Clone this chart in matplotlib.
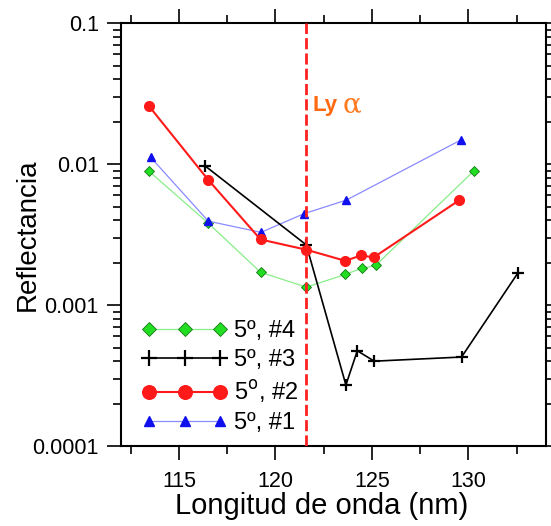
import matplotlib
matplotlib.use("Agg")
import matplotlib.pyplot as plt
from matplotlib.ticker import FixedLocator, NullFormatter, LogLocator

plt.rcParams['font.family'] = ['Liberation Sans', 'DejaVu Sans']

# Reflectance measurements at 5 degrees for four samples
wl_4 = [113.45, 116.53, 119.23, 121.6, 123.62, 124.46, 125.19, 130.26]
refl_4 = [0.0089, 0.0038, 0.00171, 0.00134, 0.00165, 0.00182, 0.00191, 0.0089]

wl_3 = [116.36, 121.6, 123.65, 124.24, 125.12, 129.64, 132.56]
refl_3 = [0.0097, 0.00267, 0.000271, 0.000474, 0.00040, 0.000428, 0.00169]

wl_2 = [113.45, 116.53, 119.23, 121.6, 123.62, 124.43, 125.09, 129.5]
refl_2 = [0.0258, 0.0077, 0.00292, 0.00247, 0.00206, 0.00225, 0.00218, 0.00552]

wl_1 = [113.53, 116.52, 119.25, 121.48, 123.68, 129.59]
refl_1 = [0.0112, 0.00394, 0.00328, 0.00445, 0.00556, 0.0148]

labels = ["5º, #4", "5º, #3", "5$^{\\mathrm{o}}$, #2", "5º, #1"]
x_ticks = [115, 120, 125, 130]
y_ticks = [0.0001, 0.001, 0.01, 0.1]
y_ticklabels = ["0.0001", "0.001", "0.01", "0.1"]
lyman_alpha = 121.6

fig = plt.figure(figsize=(5.51, 5.26), dpi=100)
ax = fig.add_axes([0.2196, 0.152, 0.7708, 0.804])

ax.plot(wl_4, refl_4, color='#88ee88', lw=0.9, marker='D', ms=5,
        mfc='#22dd22', mec='#117711', mew=0.6, label=labels[0], zorder=3)
ax.plot(wl_3, refl_3, color='black', lw=1.2, marker='+', ms=8,
        mew=1.6, label=labels[1], zorder=4)
ax.plot(wl_2, refl_2, color='#ff1a1a', lw=1.5, marker='o', ms=7,
        mfc='#ff1a1a', mec='#ff1a1a', label=labels[2], zorder=5)
ax.plot(wl_1, refl_1, color='#8a8aff', lw=0.9, marker='^', ms=5.5,
        mfc='#1010ee', mec='#1010ee', label=labels[3], zorder=3)

ax.axvline(lyman_alpha, color='#ff2020', lw=2, ls=(0, (4, 1.5)), zorder=6)
ax.text(lyman_alpha + 0.3, 0.0262, "Ly", color='#ff6a10', fontsize=16,
        fontweight='bold', va='center', ha='left')
ax.text(lyman_alpha + 1.9, 0.0262, "α", color='#ff7a20', fontsize=20,
        family=['DejaVu Serif'], va='center', ha='left')

ax.set_yscale('log')
ax.set_xlim(112, 134)
ax.set_ylim(0.0001, 0.1)
ax.set_xticks(x_ticks)
ax.xaxis.set_minor_locator(FixedLocator([112.5, 117.5, 122.5, 127.5, 132.5]))
ax.set_yticks(y_ticks)
ax.set_yticklabels(y_ticklabels)
ax.yaxis.set_minor_locator(LogLocator(base=10, subs=range(2, 10), numticks=20))
ax.yaxis.set_minor_formatter(NullFormatter())

ax.tick_params(which='both', direction='out', top=True, right=True,
               labeltop=False, labelright=False, width=1.2, color='black')
ax.tick_params(which='major', length=10, labelsize=15.5)
ax.tick_params(axis='x', which='major', pad=8)
ax.tick_params(axis='y', which='major', pad=6)
ax.tick_params(which='minor', length=6)
for s in ax.spines.values():
    s.set_linewidth(1.5)

ax.set_xlabel("Longitud de onda (nm)", fontsize=21)
ax.xaxis.set_label_coords(0.473, -0.108)
ax.set_ylabel("Reflectancia", fontsize=20)
ax.yaxis.set_label_coords(-0.19, 0.5)

ax.legend(loc='lower left', bbox_to_anchor=(0.0, -0.022), frameon=False,
          numpoints=3, markerscale=1.4, fontsize=17, handlelength=3.6,
          handletextpad=0.3, labelspacing=0.3, borderaxespad=0.5)

fig.savefig("out.png", dpi=100)
